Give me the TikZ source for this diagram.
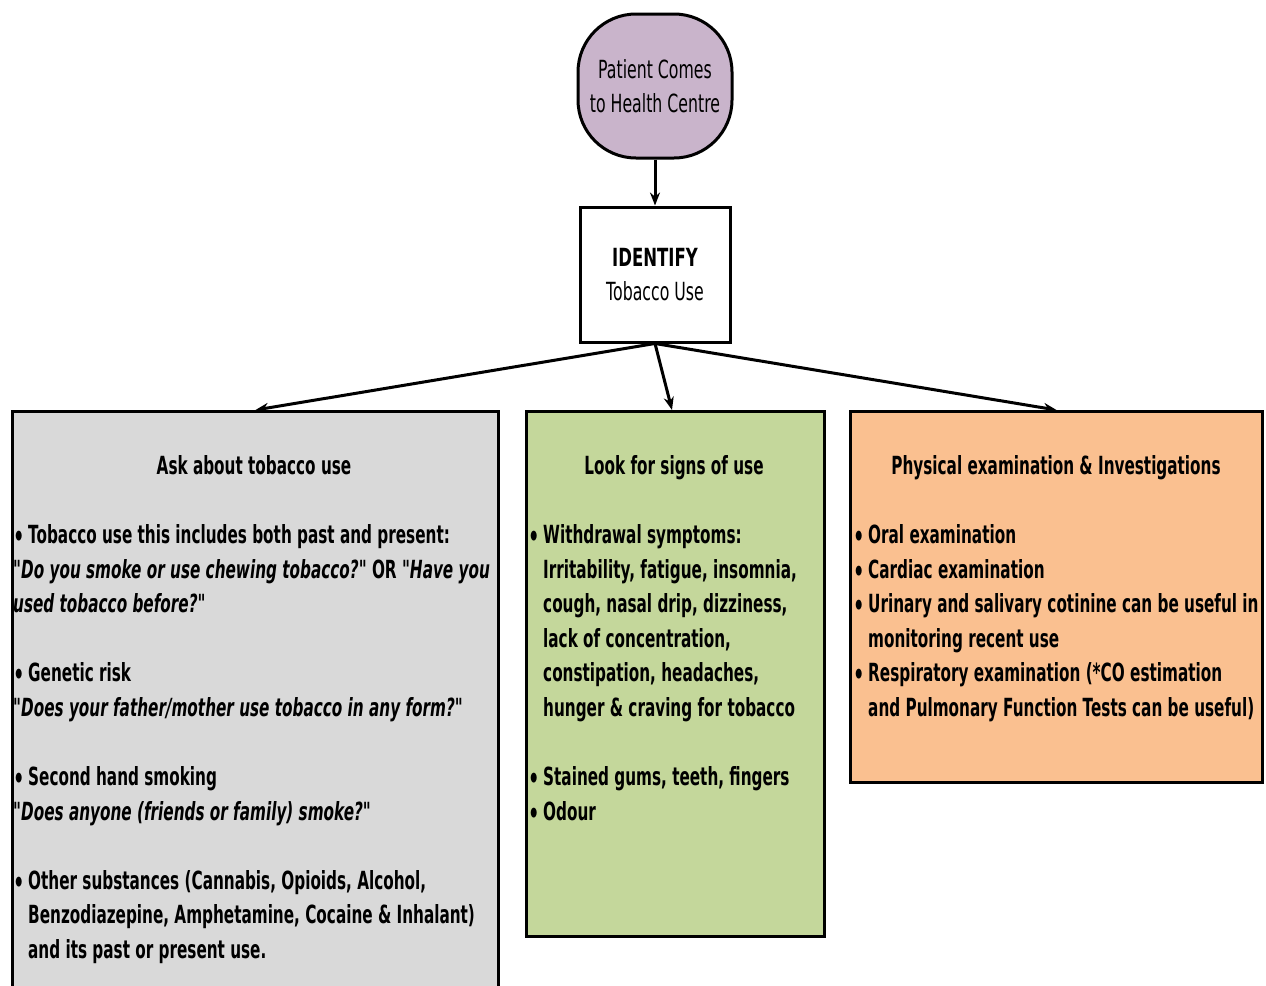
\documentclass[tikz,border=0pt]{standalone}
\usepackage{fontspec}
\usetikzlibrary{arrows.meta}
\newfontfamily\cf[FakeStretch=0.61]{DejaVu Sans}
\newfontfamily\cfr[FakeStretch=0.63]{DejaVu Sans}
\newfontfamily\cfb[FakeStretch=0.66]{DejaVu Sans}
\definecolor{purp}{RGB}{201,180,203}
\definecolor{greybox}{RGB}{217,217,217}
\definecolor{greenbox}{RGB}{196,215,155}
\definecolor{orangebox}{RGB}{250,192,144}
\newcommand\bl{\makebox[0pt][r]{\raisebox{-3pt}{\fontsize{28}{28}\selectfont •}\hspace{4pt}}}
\tikzset{
  box/.style={draw=black, line width=3pt, anchor=north west, inner sep=0pt},
  body/.style={anchor=base west, inner sep=0pt, font=\cf\bfseries\fontsize{25}{25}\selectfont},
  quote/.style={body, font=\cf\bfseries\itshape\fontsize{25}{25}\selectfont},
  head/.style={anchor=base, inner sep=0pt, font=\cf\bfseries\fontsize{25}{25}\selectfont},
  arr/.style={line width=3pt, -{Stealth[length=13pt,width=10pt]}},
}
\begin{document}
\begin{tikzpicture}[x=1pt,y=-1pt]
\useasboundingbox (0,0) rectangle (1266,985);
\clip (0,0) rectangle (1266,985);
% top
\node[draw=black, line width=3pt, fill=purp, rounded corners=58pt, minimum width=154pt, minimum height=144pt, inner sep=0pt, align=center, font=\cfr\fontsize{25}{34}\selectfont] (patient) at (655,86) {Patient Comes\\to Health Centre};
\node[draw=black, line width=3pt, fill=white, minimum width=150pt, minimum height=135pt, inner sep=0pt, align=center, font=\cfr\fontsize{25}{34}\selectfont] (identify) at (655,274.5) {{\cfb\bfseries IDENTIFY}\\Tobacco Use};
% boxes
\node[box, fill=greybox, minimum width=486pt, minimum height=620pt] (ask) at (11,410) {};
\node[box, fill=greenbox, minimum width=298pt, minimum height=525pt] (look) at (525,410) {};
\node[box, fill=orangebox, minimum width=412pt, minimum height=371pt] (phys) at (849,410) {};
% arrows
\draw[arr] (patient.south) -- (identify.north);
\draw[arr] (identify.south) -- (ask.north);
\draw[arr] (identify.south) -- (672,410);
\draw[arr] (identify.south) -- (phys.north);
% grey text
\node[head] (askh) at (254,474) {Ask about tobacco use};
\node[body] (a1) at (28,543) {\bl Tobacco use this includes both past and present:};
\node[quote] (a2) at (13,578) {"Do you smoke or use chewing tobacco?" {\upshape OR} "Have you};
\node[quote] (a3) at (13,612) {used tobacco before?"};
\node[body] (a4) at (28,681) {\bl Genetic risk};
\node[quote] (a5) at (13,716) {"Does your father/mother use tobacco in any form?"};
\node[body] (a6) at (28,785) {\bl Second hand smoking};
\node[quote] (a7) at (13,820) {"Does anyone (friends or family) smoke?"};
\node[body] (a8) at (28,889) {\bl Other substances (Cannabis, Opioids, Alcohol,};
\node[body] (a9) at (28,923) {Benzodiazepine, Amphetamine, Cocaine \& Inhalant)};
\node[body] (a10) at (28,958) {and its past or present use.};
% green text
\node[head] (lookh) at (674,474) {Look for signs of use};
\node[body] (l1) at (543,543) {\bl Withdrawal symptoms:};
\node[body] (l2) at (543,578) {Irritability, fatigue, insomnia,};
\node[body] (l3) at (543,612) {cough, nasal drip, dizziness,};
\node[body] (l4) at (543,647) {lack of concentration,};
\node[body] (l5) at (543,681) {constipation, headaches,};
\node[body] (l6) at (543,716) {hunger \& craving for tobacco};
\node[body] (l7) at (543,785) {\bl Stained gums, teeth, fingers};
\node[body] (l8) at (543,820) {\bl Odour};
% orange text
\node[head] (physh) at (1056,474) {Physical examination \& Investigations};
\node[body] (p1) at (868,543) {\bl Oral examination};
\node[body] (p2) at (868,578) {\bl Cardiac examination};
\node[body] (p3) at (868,612) {\bl Urinary and salivary cotinine can be useful in};
\node[body] (p4) at (868,647) {monitoring recent use};
\node[body] (p5) at (868,681) {\bl Respiratory examination (*CO estimation};
\node[body] (p6) at (868,716) {and Pulmonary Function Tests can be useful)};
\end{tikzpicture}
\end{document}
